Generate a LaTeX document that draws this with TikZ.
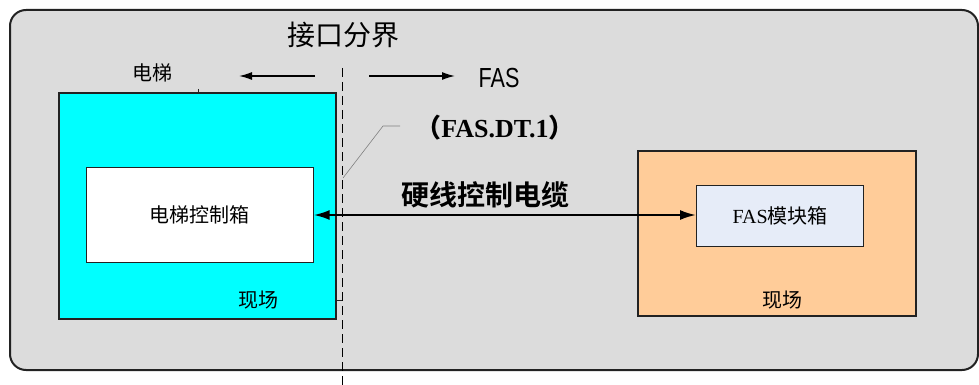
\documentclass[tikz,border=0pt]{standalone}
\usepackage{fontspec}
\setmainfont{Liberation Serif}
\newfontfamily\serifr{Liberation Serif}
\newfontfamily\cjk{Noto Sans CJK SC}
\newfontfamily\cjkb{Noto Sans CJK SC Bold}
\newfontfamily\lsans{Liberation Sans}
\usetikzlibrary{arrows.meta}
\definecolor{bggrey}{HTML}{DCDCDC}
\definecolor{peach}{HTML}{FFCC99}
\definecolor{aqua}{HTML}{00FFFF}
\definecolor{lav}{HTML}{E6ECF8}
\definecolor{edge}{HTML}{222222}
\tikzset{
  box/.style={draw=edge, line width=1.2pt},
  lbl/.style={inner sep=0pt, font=\cjk\fontsize{20}{22}\selectfont},
  thinl/.style={line width=0.6pt, draw=gray},
  dirarrow/.style={line width=1.5pt, -{Latex[length=13pt,width=8pt]}},
}
\begin{document}
\begin{tikzpicture}[x=1pt,y=-1pt]
\useasboundingbox (0,0) rectangle (979,385);
% outer area
\draw[line width=2pt, draw=edge, fill=bggrey, rounded corners=16pt] (10,10) rectangle (978,370);
% left cyan region
\draw[box, fill=aqua] (59,93) rectangle (336,319);
\node[box, fill=white, minimum width=227pt, minimum height=95pt, anchor=north west, inner sep=0pt] (ctrl) at (85.5,167) {};
\node[lbl] at (ctrl.center) {电梯控制箱};
\node[lbl] (site1) at (258,300) {现场};
% small leftover ticks
\draw[line width=0.6pt, draw=edge] (198,89) -- (198,93);
\draw[line width=0.6pt, draw=edge] (336,300) -- (342,300);
% right peach region
\draw[box, fill=peach] (638,151) rectangle (916,316);
\node[box, fill=lav, minimum width=167pt, minimum height=61pt, anchor=north west, inner sep=0pt] (fas) at (696,185) {};
\node[inner sep=0pt, font=\serifr\fontsize{20}{22}\selectfont] at (fas.center) {FAS{\cjk 模块箱}};
\node[lbl] (site2) at (782,300) {现场};
% dashed boundary
\coordinate (btop) at (342,68);
\coordinate (bbot) at (342,385);
\draw[line width=1pt, dash pattern=on 9pt off 5pt] (btop) -- (bbot);
% top labels
\node[inner sep=0pt, font=\cjk\fontsize{28}{30}\selectfont] (iface) at (343,35) {接口分界};
\node[lbl] (elev) at (152,73) {电梯};
\node[inner sep=0pt, font=\lsans\fontsize{24}{26}\selectfont] (fastxt) at (499,78) {\scalebox{0.9}[1.15]{FAS}};
\coordinate (la1) at (315,76);
\coordinate (la2) at (239,76);
\coordinate (ra1) at (369,76);
\coordinate (ra2) at (455,76);
\draw[dirarrow] (la1) -- (la2);
\draw[dirarrow] (ra1) -- (ra2);
% code label with leader
\node[inner sep=0pt, font=\serifr\bfseries\fontsize{26}{28}\selectfont] (code) at (495,128) {{\cjkb （}FAS.DT.1{\cjkb ）}};
\coordinate (ld1) at (343,178);
\coordinate (ld2) at (383,126);
\coordinate (ld3) at (400,126);
\draw[thinl] (ld1) -- (ld2) -- (ld3);
% cable
\node[inner sep=0pt, font=\cjkb\fontsize{28}{30}\selectfont] (cable) at (485,195) {硬线控制电缆};
\draw[line width=2pt, {Latex[length=16pt,width=10pt]}-{Latex[length=16pt,width=10pt]}] (ctrl.east |- 0,215) -- (fas.west |- 0,215);
\end{tikzpicture}
\end{document}
